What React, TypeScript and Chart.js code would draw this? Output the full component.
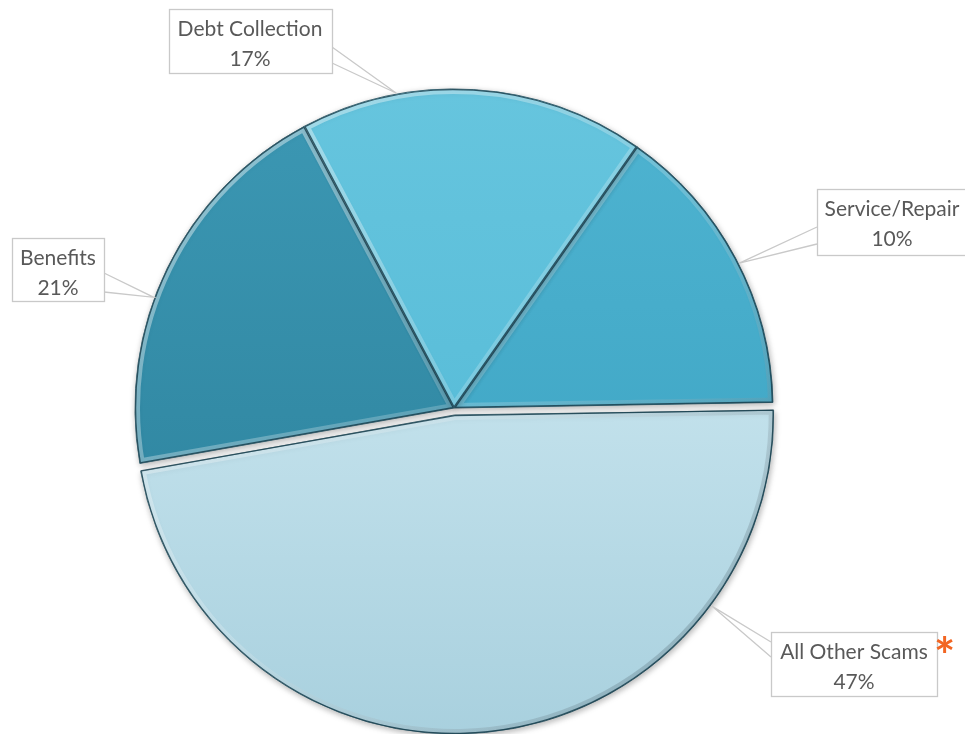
import React, { useEffect, useRef } from "react";
import { Chart, registerables } from "chart.js";

Chart.register(...registerables);

// ---- data ----
const categories = ["Service/Repair", "All Other Scams", "Benefits", "Debt Collection"];
const sliceValues = [15, 47.5, 20, 17.5]; // wedge sizes as drawn
const percentLabels = ["10%", "47%", "21%", "17%"]; // printed labels
const starredCategory = "All Other Scams";

// ---- styles / layout ----
const BASE_RADIUS = 319;
const gradStops: [string, string][] = [
  ["#4fb4d1", "#379fbf"],
  ["#d9f0f7", "#a8d0de"],
  ["#3c98b4", "#2a7e98"],
  ["#66c5de", "#4db6d4"],
];
const sliceOffsets = [0, 28, 0, 0];
const callouts = [
  { x: 817, y: 189, w: 165, h: 66, side: "left", a1: 227, a2: 244, frac: 0.52, tx: 892 },
  { x: 771, y: 632, w: 166, h: 64, side: "left", a1: 642, a2: 657, frac: 0.22, tx: 854 },
  { x: 12, y: 238, w: 92, h: 63, side: "right", a1: 273, a2: 292, frac: 0.42, tx: 58 },
  { x: 169, y: 9, w: 163, h: 64, side: "right", a1: 47, a2: 63, frac: 0.28, tx: 250 },
];
const FONT = "Lato, 'Open Sans', sans-serif";

function arcShift(arc: any) {
  const o = (arc.options.offset || 0) / 4;
  const half = (arc.startAngle + arc.endAngle) / 2;
  return { dx: Math.cos(half) * o, dy: Math.sin(half) * o };
}

const explodeFix = {
  id: "explodeFix",
  beforeDatasetsDraw(chart: any) {
    const meta = chart.getDatasetMeta(0);
    meta.data.forEach((arc: any) => {
      const o = (arc.options.offset || 0) / 4;
      const circ = arc.endAngle - arc.startAngle;
      const fix = 1 - Math.sin(Math.min(Math.PI, circ));
      arc.outerRadius = BASE_RADIUS - o * fix;
    });
  },
};

const shadowPlugin = {
  id: "shadowPlugin",
  beforeDatasetDraw(chart: any) {
    const ctx = chart.ctx;
    ctx.save();
    ctx.shadowColor = "rgba(0,0,0,0.3)";
    ctx.shadowBlur = 6;
    ctx.shadowOffsetX = 1;
    ctx.shadowOffsetY = 2;
  },
  afterDatasetDraw(chart: any) {
    chart.ctx.restore();
  },
};

const bevelPlugin = {
  id: "bevelPlugin",
  afterDatasetsDraw(chart: any) {
    const ctx = chart.ctx;
    const meta = chart.getDatasetMeta(0);
    meta.data.forEach((arc: any) => {
      const { dx, dy } = arcShift(arc);
      const cx = arc.x + dx;
      const cy = arc.y + dy;
      const r = BASE_RADIUS;
      ctx.save();
      ctx.beginPath();
      ctx.moveTo(cx, cy);
      ctx.arc(cx, cy, r, arc.startAngle, arc.endAngle);
      ctx.closePath();
      ctx.clip();
      const g = ctx.createLinearGradient(cx - r, cy - r, cx + r, cy + r);
      g.addColorStop(0, "rgba(255,255,255,0.5)");
      g.addColorStop(0.5, "rgba(255,255,255,0.2)");
      g.addColorStop(1, "rgba(0,30,45,0.3)");
      ctx.lineWidth = 10;
      ctx.strokeStyle = g;
      ctx.lineJoin = "round";
      ctx.stroke();
      ctx.lineWidth = 2.5;
      ctx.strokeStyle = "rgba(20,60,75,0.8)";
      ctx.stroke();
      ctx.restore();
    });
  },
};

const calloutPlugin = {
  id: "calloutPlugin",
  afterDraw(chart: any) {
    const ctx = chart.ctx;
    const meta = chart.getDatasetMeta(0);
    meta.data.forEach((arc: any, i: number) => {
      const c = callouts[i];
      const { dx, dy } = arcShift(arc);
      const ang = arc.startAngle + c.frac * (arc.endAngle - arc.startAngle);
      const ax = arc.x + dx + Math.cos(ang) * (BASE_RADIUS + 1);
      const ay = arc.y + dy + Math.sin(ang) * (BASE_RADIUS + 1);
      const ex = c.side === "left" ? c.x : c.x + c.w;
      ctx.save();
      ctx.strokeStyle = "#c9c9c9";
      ctx.lineWidth = 1.3;
      ctx.beginPath();
      ctx.moveTo(ex, c.a1);
      ctx.lineTo(ax, ay);
      ctx.lineTo(ex, c.a2);
      ctx.stroke();
      ctx.fillStyle = "#ffffff";
      ctx.fillRect(c.x, c.y, c.w, c.h);
      ctx.strokeRect(c.x + 0.5, c.y + 0.5, c.w, c.h);
      ctx.fillStyle = "#595959";
      ctx.font = `21px ${FONT}`;
      ctx.textAlign = "center";
      ctx.textBaseline = "middle";
      ctx.fillText(categories[i], c.tx, c.y + 20);
      ctx.fillText(percentLabels[i], c.tx, c.y + 50);
      if (categories[i] === starredCategory) {
        ctx.fillStyle = "#f26522";
        ctx.font = `bold 50px ${FONT}`;
        ctx.textAlign = "left";
        ctx.fillText("*", c.x + c.w - 3, c.y + 26);
      }
      ctx.restore();
    });
  },
};

export default function App() {
  const ref = useRef<HTMLCanvasElement | null>(null);
  useEffect(() => {
    if (!ref.current) return;
    const chart = new Chart(ref.current, {
      type: "pie",
      data: {
        labels: categories,
        datasets: [
          {
            data: sliceValues,
            backgroundColor: (ctx: any) => {
              const i = ctx.dataIndex;
              const stops = gradStops[i] || gradStops[0];
              const area = ctx.chart.chartArea;
              if (!area) return stops[0];
              const g = ctx.chart.ctx.createLinearGradient(0, 90, 0, 734);
              g.addColorStop(0, stops[0]);
              g.addColorStop(1, stops[1]);
              return g;
            },
            borderColor: "rgba(25,70,85,0.8)",
            borderWidth: 1,
            offset: sliceOffsets,
          } as any,
        ],
      },
      options: {
        animation: false,
        responsive: true,
        maintainAspectRatio: false,
        rotation: 35,
        radius: BASE_RADIUS,
        layout: { padding: { left: 0, right: 57, top: 82, bottom: 0 } },
        plugins: { legend: { display: false }, tooltip: { enabled: false } },
      } as any,
      plugins: [explodeFix, shadowPlugin, bevelPlugin, calloutPlugin],
    });
    return () => chart.destroy();
  }, []);
  return (
    <div style={{ position: "absolute", left: 0, top: 0, width: 965, height: 734, background: "#fff" }}>
      <canvas ref={ref} />
    </div>
  );
}
